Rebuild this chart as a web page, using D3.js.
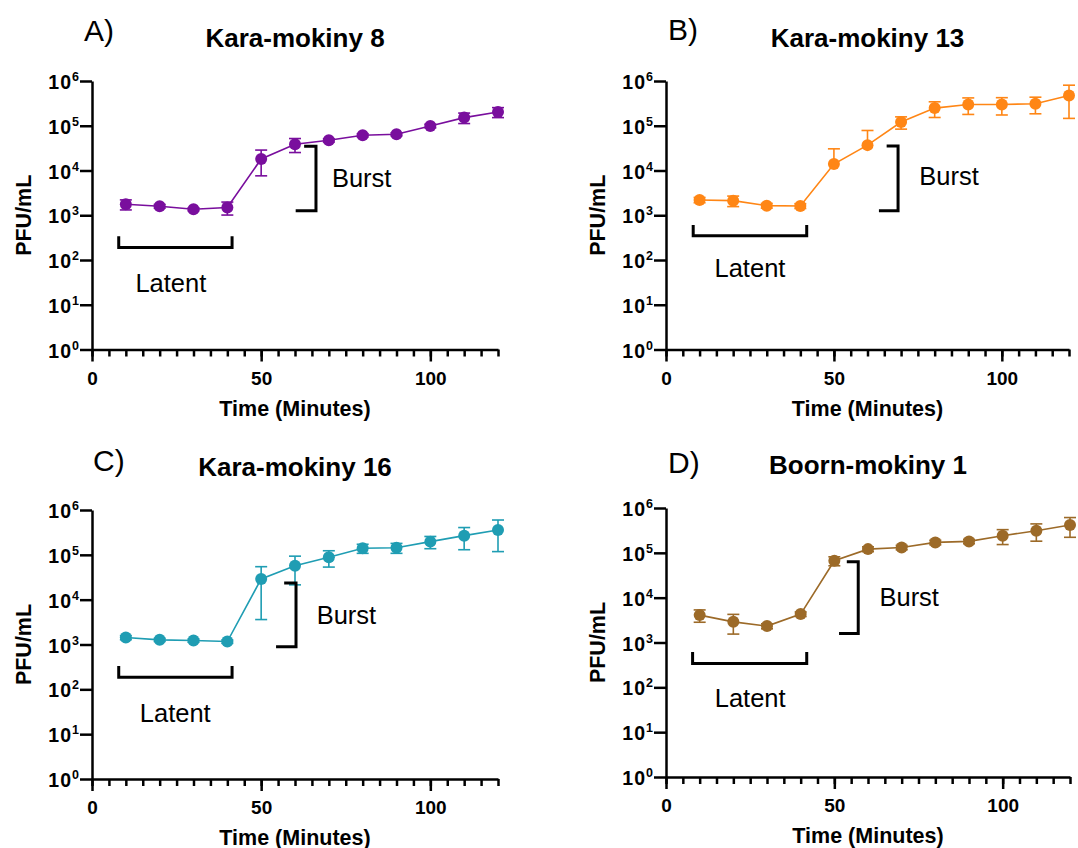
<!DOCTYPE html>
<html>
<head>
<meta charset="utf-8">
<script src="https://cdn.jsdelivr.net/npm/d3@7"></script>
<style>
  html, body { margin: 0; padding: 0; background: #fff; }
  svg { display: block; font-family: "Liberation Sans", Arial, sans-serif; }
</style>
</head>
<body>
<svg id="chart" width="1078" height="848"></svg>
<script>
// One-step growth curves: PFU/mL over time for four phages
const times = [10, 20, 30, 40, 50, 60, 70, 80, 90, 100, 110, 120];

const karaMokiny8Mean  = [1760, 1590, 1360, 1490, 18100, 38500, 47300, 61300, 64500, 98900, 152000, 203000];
const karaMokiny8Sd    = [445, 150, 100, 480, 10500, 13300, 4000, 5000, 5000, 9000, 40000, 51000];

const karaMokiny13Mean = [2200, 2120, 1640, 1615, 13900, 36900, 121000, 248000, 299000, 299000, 310000, 476000];
const karaMokiny13Sd   = [300, 560, 200, 200, 16600, 41500, 37000, 95000, 120000, 125000, 125000, 330000];

const karaMokiny16Mean = [1430, 1270, 1225, 1163, 29000, 57400, 88300, 140000, 144000, 197000, 268000, 358000];
const karaMokiny16Sd   = [150, 100, 100, 100, 25400, 36000, 35000, 32000, 36000, 60000, 138000, 240000];

const boornMokiny1Mean = [4080, 2890, 2320, 4300, 66500, 121000, 132000, 171000, 180000, 241000, 312000, 417000];
const boornMokiny1Sd   = [1250, 1350, 300, 500, 15000, 15000, 15000, 20000, 20000, 88000, 130000, 195000];

const panelLetters = ["A)", "B)", "C)", "D)"];
const panelTitles  = ["Kara-mokiny 8", "Kara-mokiny 13", "Kara-mokiny 16", "Boorn-mokiny 1"];
const yTickValues  = [1, 10, 100, 1000, 10000, 100000, 1000000];
const xMajorTicks  = [0, 50, 100];
const xLabel = "Time (Minutes)";
const yLabel = "PFU/mL";

// Latent / burst brackets, in minutes and log10(PFU/mL)
const latentMarks = [
  {x0: 7.9, x1: 41.4, y: 2.28, yEnd: 2.53, tx: 23.3, ty: 1.29},
  {x0: 8.1, x1: 41.9, y: 2.54, yEnd: 2.78, tx: 25.0, ty: 1.63},
  {x0: 7.9, x1: 41.4, y: 2.27, yEnd: 2.52, tx: 24.6, ty: 1.28},
  {x0: 7.9, x1: 41.8, y: 2.53, yEnd: 2.79, tx: 25.0, ty: 1.56}
];
const burstMarks = [
  {x: 66.2, xTop: 62.7, xBot: 60.2, yTop: 4.54, yBot: 3.10, tx: 70.9, ty: 3.63},
  {x: 69.1, xTop: 65.7, xBot: 63.4, yTop: 4.55, yBot: 3.10, tx: 75.4, ty: 3.68},
  {x: 60.3, xTop: 56.8, xBot: 54.4, yTop: 4.37, yBot: 2.95, tx: 66.4, ty: 3.45},
  {x: 57.1, xTop: 53.7, xBot: 51.4, yTop: 4.80, yBot: 3.20, tx: 63.4, ty: 3.81}
];

const means  = [karaMokiny8Mean, karaMokiny13Mean, karaMokiny16Mean, boornMokiny1Mean];
const sds    = [karaMokiny8Sd, karaMokiny13Sd, karaMokiny16Sd, boornMokiny1Sd];
const colors = ["#790e9d", "#ff8615", "#1f9db3", "#9c6a28"];

// Panel frames (plot area) and letter placement relative to each frame
const frames = [
  {left: 92,  top: 81,  width: 406, height: 268.5, letterDx: -8, letterDy: -40},
  {left: 666, top: 81,  width: 403, height: 268.5, letterDx: 2,  letterDy: -41},
  {left: 92,  top: 510, width: 406, height: 269,   letterDx: 1,  letterDy: -39},
  {left: 666, top: 508, width: 404, height: 269,   letterDx: 2,  letterDy: -35}
];

const svg = d3.select("#chart");

frames.forEach((f, i) => {
  const g = svg.append("g");
  const x = d3.scaleLinear().domain([0, 120]).range([f.left, f.left + f.width]);
  const y = d3.scaleLog().domain([1, 1e6]).range([f.top + f.height, f.top]);
  const ly = v => y(Math.pow(10, v));
  const color = colors[i];
  const bottom = f.top + f.height;

  // Y axis with 10^n labels
  const yAxis = g.append("g")
    .attr("transform", `translate(${f.left},0)`)
    .call(d3.axisLeft(y).tickValues(yTickValues).tickSize(12).tickSizeOuter(0).tickFormat(() => ""));
  yAxis.selectAll(".tick line").attr("stroke", "#000").attr("stroke-width", 2.5);
  yAxis.selectAll(".tick text").each(function(d) {
    const t = d3.select(this)
      .attr("x", -13).attr("dy", null).attr("y", 7.5)
      .attr("fill", "#000").attr("font-weight", "bold").attr("font-size", 19.5)
      .attr("text-anchor", "end");
    t.append("tspan").attr("letter-spacing", 1).text("10");
    t.append("tspan").attr("font-size", 12.5).attr("dy", -8).text(Math.round(Math.log10(d)));
  });
  yAxis.select(".domain").attr("stroke", "#000").attr("stroke-width", 2.5);

  // X axis: minor ticks every 5 minutes, long ticks with labels at 0/50/100
  const xMinor = g.append("g")
    .attr("transform", `translate(0,${bottom})`)
    .call(d3.axisBottom(x).tickValues(d3.range(0, 121, 5)).tickSize(7).tickSizeOuter(0).tickFormat(() => ""));
  xMinor.selectAll(".tick line").attr("stroke", "#000").attr("stroke-width", 2.5);
  xMinor.select(".domain").attr("stroke", "#000").attr("stroke-width", 2.5);

  const xMajor = g.append("g")
    .attr("transform", `translate(0,${bottom})`)
    .call(d3.axisBottom(x).tickValues(xMajorTicks).tickSize(12).tickSizeOuter(0).tickFormat(d3.format("d")));
  xMajor.select(".domain").remove();
  xMajor.selectAll(".tick line").attr("stroke", "#000").attr("stroke-width", 2.5);
  xMajor.selectAll(".tick text")
    .attr("y", 35).attr("dy", null)
    .attr("fill", "#000").attr("font-weight", "bold").attr("font-size", 19);

  // Axis titles
  g.append("text")
    .attr("x", f.left + f.width / 2).attr("y", bottom + 66)
    .attr("text-anchor", "middle").attr("font-weight", "bold").attr("font-size", 21.5)
    .text(xLabel);
  g.append("text")
    .attr("transform", `translate(${f.left - 61},${f.top + f.height / 2}) rotate(-90)`)
    .attr("text-anchor", "middle").attr("font-weight", "bold").attr("font-size", 21.5)
    .text(yLabel);

  // Panel letter and title
  g.append("text")
    .attr("x", f.left + f.letterDx).attr("y", f.top + f.letterDy)
    .attr("font-size", 30).text(panelLetters[i]);
  g.append("text")
    .attr("x", f.left + f.width / 2).attr("y", f.top - 34)
    .attr("text-anchor", "middle").attr("font-weight", "bold").attr("font-size", 26)
    .text(panelTitles[i]);

  // Data
  const data = times.map((t, k) => ({t, m: means[i][k], s: sds[i][k]}));

  // Error bars (mean ± SD; the lower half is omitted when it falls below zero)
  const eb = g.append("g").attr("stroke", color).attr("stroke-width", 1.6).attr("fill", "none");
  const cap = 6;
  data.forEach(d => {
    const cx = x(d.t);
    const hi = d.m + d.s;
    const lo = d.m - d.s;
    eb.append("line").attr("x1", cx).attr("x2", cx).attr("y1", y(d.m)).attr("y2", y(hi));
    eb.append("line").attr("x1", cx - cap).attr("x2", cx + cap).attr("y1", y(hi)).attr("y2", y(hi));
    if (lo > 0) {
      eb.append("line").attr("x1", cx).attr("x2", cx).attr("y1", y(d.m)).attr("y2", y(lo));
      eb.append("line").attr("x1", cx - cap).attr("x2", cx + cap).attr("y1", y(lo)).attr("y2", y(lo));
    }
  });

  g.append("path")
    .datum(data)
    .attr("fill", "none").attr("stroke", color).attr("stroke-width", 1.6)
    .attr("d", d3.line().x(d => x(d.t)).y(d => y(d.m)));

  g.append("g").selectAll("circle").data(data).join("circle")
    .attr("cx", d => x(d.t)).attr("cy", d => y(d.m)).attr("r", 6)
    .attr("fill", color);

  // Latent bracket
  const L = latentMarks[i];
  g.append("path")
    .attr("fill", "none").attr("stroke", "#000").attr("stroke-width", 3)
    .attr("d", `M${x(L.x0)},${ly(L.yEnd)}V${ly(L.y)}H${x(L.x1)}V${ly(L.yEnd)}`);
  g.append("text")
    .attr("x", x(L.tx)).attr("y", ly(L.ty))
    .attr("text-anchor", "middle").attr("font-size", 25.5)
    .text("Latent");

  // Burst bracket
  const B = burstMarks[i];
  g.append("path")
    .attr("fill", "none").attr("stroke", "#000").attr("stroke-width", 3)
    .attr("d", `M${x(B.xTop)},${ly(B.yTop)}H${x(B.x)}V${ly(B.yBot)}H${x(B.xBot)}`);
  g.append("text")
    .attr("x", x(B.tx)).attr("y", ly(B.ty))
    .attr("font-size", 25.5)
    .text("Burst");
});
</script>
</body>
</html>
